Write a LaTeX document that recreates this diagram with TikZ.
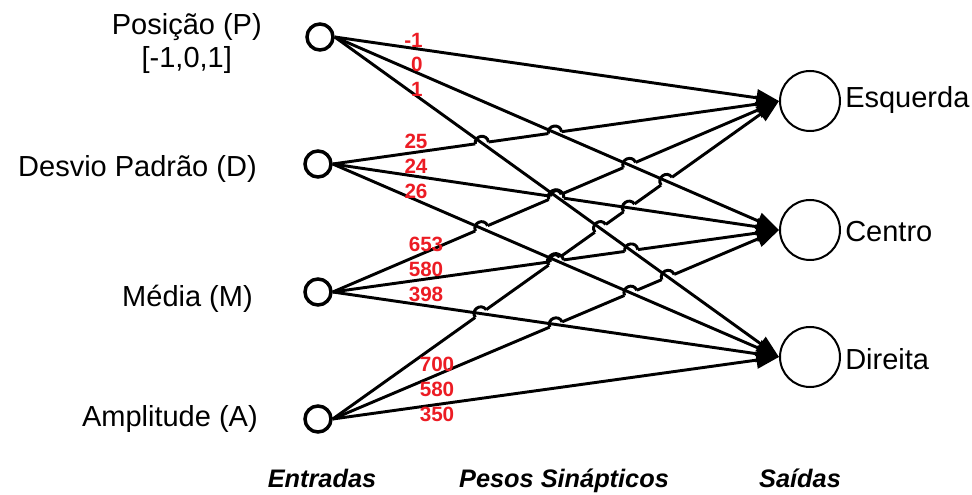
\documentclass[tikz,border=0pt]{standalone}
\usepackage{fontspec}
\setmainfont{Liberation Sans}
\usepackage{tikz}
\usetikzlibrary{arrows.meta,calc}

\definecolor{wred}{RGB}{236,28,36}

\tikzset{
	inp/.style={circle,draw,line width=2.6pt,minimum size=19.5pt,inner sep=0pt},
	outp/.style={circle,draw,line width=1.5pt,minimum size=45pt,inner sep=0pt},
	lbl/.style={inner sep=0pt,font=\fontsize{21.75}{24.75}\selectfont},
	wt/.style={inner sep=0pt,text=wred,font=\bfseries\fontsize{15.5}{18}\selectfont},
	caption/.style={inner sep=0pt,font=\bfseries\itshape\fontsize{19}{22}\selectfont},
	syn/.style={line width=2.2pt,-{Triangle[length=17pt,width=12.5pt]}},
	hop/.style={line width=2.2pt},
}

\begin{document}
\begin{tikzpicture}[x=0.75pt,y=0.75pt]
	\useasboundingbox (0,0) rectangle (972,-495);
	% inputs
	\node[inp] (P) at (320,-37) {};
	\node[inp] (D) at (318,-164) {};
	\node[inp] (M) at (318,-292) {};
	\node[inp] (A) at (318,-419) {};
	% outputs
	\node[outp] (E) at (810,-101) {};
	\node[outp] (C) at (810,-230) {};
	\node[outp] (R) at (810,-357) {};
	%
	% synapses, lowest input first: each line jumps the ones drawn after it
	\foreach \s/\up in {A/{P,D,M},M/{P,D},D/{P}} {
		\foreach \t in {E,C,R}
			\draw[syn] (\s.east) -- (\t.west);
		\foreach \t/\lo in {E/{C,R},C/{R}}
			\foreach \u in \up
				\foreach \v in \lo {
					\coordinate (x) at (intersection of \s.east--\t.west and \u.east--\v.west);
					\draw[white,line width=3.8pt] ($(x)!5pt!(\s.east)$) -- ($(x)!5pt!(\t.west)$);
					\draw[hop] ($(x)!5pt!(\s.east)$) to[bend left=90,looseness=1.7] ($(x)!5pt!(\t.west)$);
				}
	}
	\foreach \t in {E,C,R}
		\draw[syn] (P.east) -- (\t.west);
	%
	% weights
	\node[wt,anchor=east] (wPE) at (423,-40) {-1};
	\node[wt,anchor=east] (wPC) at (423,-64) {0};
	\node[wt,anchor=east] (wPR) at (423,-89) {1};
	\node[wt] (wDE) at (416,-141) {25};
	\node[wt] (wDC) at (416,-166) {24};
	\node[wt] (wDR) at (416,-191) {26};
	\node[wt] (wME) at (426,-244) {653};
	\node[wt] (wMC) at (426,-269) {580};
	\node[wt] (wMR) at (426,-294) {398};
	\node[wt] (wAE) at (437,-364) {700};
	\node[wt] (wAC) at (437,-389) {580};
	\node[wt] (wAR) at (437,-414) {350};
	%
	% labels
	\node[lbl,anchor=east,align=center] (lP) at (262,-44) {Posição (P)\\{[-1,0,1]}};
	\node[lbl,anchor=base east] (lD) at (257,-177) {Desvio Padrão (D)};
	\node[lbl,anchor=base east] (lM) at (253,-307) {Média (M)};
	\node[lbl,anchor=base east] (lA) at (258,-427) {Amplitude (A)};
	\node[lbl,anchor=base west] (lE) at (845,-108) {Esquerda};
	\node[lbl,anchor=base west] (lC) at (845,-242) {Centro};
	\node[lbl,anchor=base west] (lR) at (845,-370) {Direita};
	% captions
	\node[caption,anchor=base] (cIn) at (322,-488) {Entradas};
	\node[caption,anchor=base] (cW) at (564,-488) {Pesos Sinápticos};
	\node[caption,anchor=base] (cOut) at (800,-488) {Saídas};
\end{tikzpicture}
\end{document}
